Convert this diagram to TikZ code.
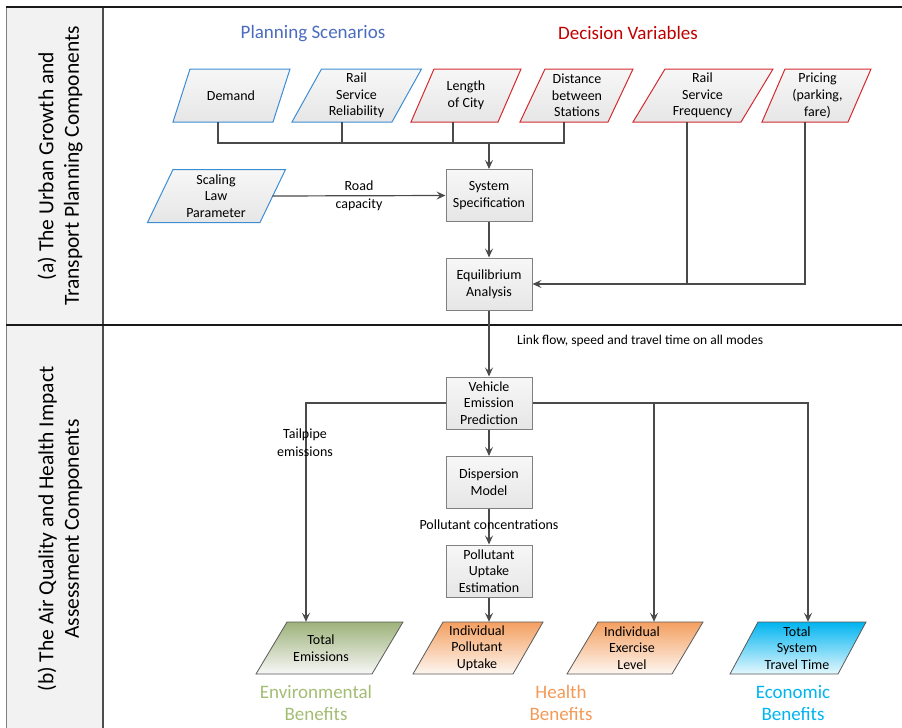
\documentclass[tikz,border=0pt]{standalone}
\usepackage{fontspec}
\setmainfont{Carlito}
\usetikzlibrary{arrows.meta}
\definecolor{pblue}{HTML}{3D8DD4}
\definecolor{pred}{HTML}{D42A2F}
\definecolor{procb}{HTML}{808080}
\definecolor{cline}{HTML}{4A4A4A}
\definecolor{hblue}{HTML}{4A6CC0}
\definecolor{hred}{HTML}{C00000}
\definecolor{envg}{HTML}{A3BD74}
\definecolor{envfill}{HTML}{9DB27A}
\definecolor{horange}{HTML}{F39A58}
\definecolor{ecyan}{HTML}{00B4F0}
\definecolor{sidefill}{HTML}{F2F2F2}
\definecolor{gtop}{HTML}{F7F7F7}
\definecolor{gbot}{HTML}{E6E6E6}
\newcommand\plg[9]{% name, style, xbl, xbr, skew, ytop, ybot, textx, text
  \path[#2] (#3,#7) -- (#4,#7) -- ({#4+#5},#6) -- ({#3+#5},#6) -- cycle;
  \node[txt, minimum height={(#7-#6)*1pt}, minimum width={(#4-#3)*1pt}] (#1) at (#8,{(#6+#7)/2}) {#9};
}
\begin{document}
\begin{tikzpicture}[x=1pt,y=-1pt,
  txt/.style={align=center, font=\fontsize{14}{16.7}\selectfont, inner sep=0pt, text=black},
  lbl/.style={align=center, font=\fontsize{14}{17.5}\selectfont, inner sep=0pt, text=black},
  hdr/.style={font=\fontsize{19}{23}\selectfont, inner sep=0pt},
  ben/.style={align=center, font=\fontsize{19}{22.5}\selectfont, inner sep=0pt},
  side/.style={align=center, font=\fontsize{21.5}{25.5}\selectfont, inner sep=0pt, rotate=90},
  conn/.style={draw=cline, line width=1.2pt},
  arr/.style={conn, -{Stealth[length=9pt,width=8pt,inset=3.5pt]}},
  bluep/.style={draw=pblue, line width=1pt, top color=gtop, bottom color=gbot},
  redp/.style={draw=pred, line width=1pt, top color=gtop, bottom color=gbot},
  proc/.style={txt, draw=procb, line width=1pt, top color=gtop, bottom color=gbot, minimum width=86pt, minimum height=52pt},
  envp/.style={draw=black!65, line width=0.8pt, top color=envfill, bottom color=black!3!white},
  hlthp/.style={draw=black!65, line width=0.8pt, top color=horange!95!white, bottom color=horange!8!white},
  ecop/.style={draw=black!65, line width=0.8pt, top color=ecyan, bottom color=ecyan!10!white}]
\useasboundingbox (0,0) rectangle (902,728);
% frame
\fill[sidefill] (6,7) rectangle (103,728);
\draw[black!50, line width=1pt] (6,7) -- (6,728);
\draw[black!70, line width=1.8pt] (103,7) -- (103,728);
\draw[black!90, line width=2pt] (6,7) -- (902,7);
\draw[black!90, line width=2pt] (6,325) -- (902,325);
\node[side] (sa) at (60,166) {(a) The Urban Growth and\\Transport Planning Components};
\node[side] (sb) at (60,529) {(b) The Air Quality and Health Impact\\Assessment Components};
% headers
\node[hdr, text=hblue] (ps) at (313,34) {Planning Scenarios};
\node[hdr, text=hred] (dv) at (628,33) {Decision Variables};
% top parallelograms
\plg{dem}{bluep}{173}{273}{17}{69}{122}{231}{Demand}
\plg{rel}{bluep}{292}{392}{29.5}{69}{122}{356.5}{Rail\\Service\\Reliability}
\plg{len}{redp}{411}{498}{23}{69}{122}{466}{Length\\of City}
\plg{dist}{redp}{520}{608}{25}{69}{122}{577}{Distance\\between\\Stations}
\plg{freq}{redp}{633}{741}{32}{69}{122}{702.5}{Rail\\Service\\Frequency}
\plg{pric}{redp}{762}{848}{23}{69}{122}{817.5}{Pricing\\(parking,\\fare)}
\plg{scal}{bluep}{147.5}{260}{25.5}{169.5}{222.5}{216}{Scaling\\Law\\Parameter}
% process boxes
\node[proc] (sys) at (489,195.5) {System\\Specification};
\node[proc] (eq) at (489,284) {Equilibrium\\Analysis};
\node[proc] (veh) at (489,403) {Vehicle\\Emission\\Prediction};
\node[proc] (disp) at (489,482.5) {Dispersion\\Model};
\node[proc] (put) at (489,571) {Pollutant\\Uptake\\Estimation};
% bottom parallelograms
\plg{tem}{envp}{256}{372}{31}{622}{674}{321}{Total\\Emissions}
\plg{ipu}{hlthp}{413}{513}{30}{622}{674}{477}{Individual\\Pollutant\\Uptake}
\plg{iel}{hlthp}{567}{672}{31}{622}{674}{632}{Individual\\Exercise\\Level}
\plg{tst}{ecop}{730}{838}{28}{622}{674}{797}{Total\\System\\Travel Time}
% benefit labels
\node[ben, text=envg] (envb) at (316,703) {Environmental\\Benefits};
\node[ben, text=horange] (hlthb) at (561,703) {Health\\Benefits};
\node[ben, text=ecyan] (ecob) at (793,703) {Economic\\Benefits};
% connectors (a)
\coordinate (merge) at (489,143);
\draw[conn] (218,0 |- dem.south) |- (merge);
\draw[conn] (342,0 |- rel.south) |- (merge);
\draw[conn] (453,0 |- len.south) |- (merge);
\draw[conn] (564,0 |- dist.south) |- (merge);
\draw[arr] (merge) -- (sys.north);
\draw[arr] (scal.east) -- node[lbl] (road) {Road\\capacity} (sys.west);
\draw[arr] (sys.south) -- (eq.north);
\draw[conn] (687,0 |- freq.south) -- (687,0 |- eq.east);
\draw[arr] (805,0 |- pric.south) |- (eq.east);
% connectors (b)
\draw[arr] (eq.south) -- (veh.north);
\node[lbl, anchor=west, font=\fontsize{13.5}{16}\selectfont] (link) at (517,341) {Link flow, speed and travel time on all modes};
\draw[arr] (veh.south) -- (disp.north);
\draw[arr] (disp.south) -- (put.north);
\node[lbl] (pc) at (489,525) {Pollutant concentrations};
\draw[arr] (put.south) -- (489,0 |- ipu.north);
\draw[arr] (veh.west) -| (306,0 |- tem.north);
\node[lbl] (tail) at (305,442.5) {Tailpipe\\emissions};
\draw[arr] (veh.east) -| (808,0 |- tst.north);
\draw[arr] (654,0 |- veh.east) -- (654,0 |- iel.north);
\end{tikzpicture}
\end{document}
